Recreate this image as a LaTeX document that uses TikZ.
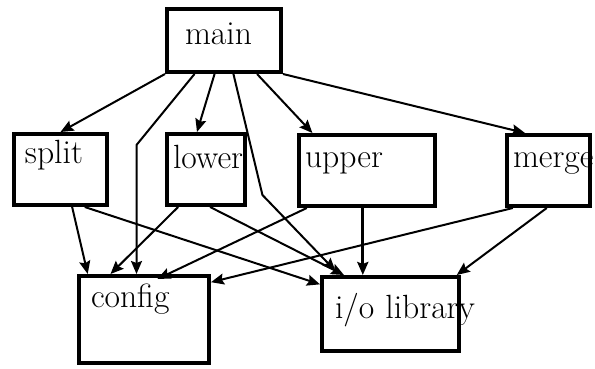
\documentclass[tikz,border=0pt]{standalone}
\usetikzlibrary{calc,arrows.meta}
\tikzset{
  module/.style n args={4}{
    draw, line width=2pt, anchor=north west, inner ysep=0pt,
    inner xsep=#1, text width=#2, text height=#3, text depth=#4,
    align=left, font=\fontsize{16.8}{19}\selectfont
  },
  call/.style = {
    line width=1pt, -{Stealth[length=6.5pt,width=5.5pt,inset=1pt]}
  },
}
\begin{document}
\begin{tikzpicture}[x=0.5pt,y=-0.5pt]
  \useasboundingbox (0,0) rectangle (595,369);
  % modules
  \node[module={9pt}{39pt}{18pt}{13.5pt}] (main) at (165,7) {main};
  \node[module={5.5pt}{35.5pt}{14.5pt}{21pt}] (split) at (12,132) {split};
  \node[module={3pt}{33pt}{17.5pt}{18pt}] (lower) at (165,132) {lower};
  \node[module={3pt}{62pt}{16.5pt}{19pt}] (upper) at (297,133) {upper};
  \node[module={3pt}{35.5pt}{16.5pt}{19pt}] (merge) at (505,133) {merge};
  \node[module={6pt}{53pt}{15.5pt}{28pt}] (config) at (77,274) {config};
  \node[module={6.5pt}{55.5pt}{20.5pt}{16.5pt}] (iolib) at (320,275) {\mbox{i/o library}};
  % calls from main
  \draw[call] (main.south west) -- (split.north);
  \draw[call] ($(main.south west)!.25!(main.south east)$) -- ++(-58,71) coordinate (b1) -- (b1 |- config.north);
  \draw[call] ($(main.south west)!.42!(main.south east)$) -- ($(lower.north west)!.39!(lower.north east)$);
  \draw[call] ($(main.south west)!.58!(main.south east)$) -- ++(29,121) -- ($(iolib.north west)!.11!(iolib.north east)+(0,-4)$);
  \draw[call] ($(main.south west)!.78!(main.south east)$) -- ($(upper.north west)!.11!(upper.north east)$);
  \draw[call] (main.south east) -- ($(merge.north west)!.23!(merge.north east)$);
  % calls from the middle row
  \draw[call] ($(split.south west)!.62!(split.south east)$) -- ($(config.north west)!.08!(config.north east)$);
  \draw[call] ($(split.south west)!.75!(split.south east)$) -- ($(iolib.north west)!.12!(iolib.south west)$);
  \draw[call] ($(lower.south west)!.16!(lower.south east)$) -- ($(config.north west)!.25!(config.north east)$);
  \draw[call] ($(lower.south west)!.55!(lower.south east)$) -- ($(iolib.north west)!.17!(iolib.north east)$);
  \draw[call] ($(upper.south west)!.07!(upper.south east)$) -- ($(config.north west)!.6!(config.north east)+(0,5)$);
  \draw[call,line width=1.5pt] ($(upper.south west)!.47!(upper.south east)$) coordinate (u1) -- (u1 |- iolib.north);
  \draw[call] ($(merge.south west)!.09!(merge.south east)$) -- ($(config.north east)!.09!(config.south east)$);
  \draw[call] ($(merge.south west)!.48!(merge.south east)$) -- ($(iolib.north west)!.97!(iolib.north east)$);
\end{tikzpicture}
\end{document}
